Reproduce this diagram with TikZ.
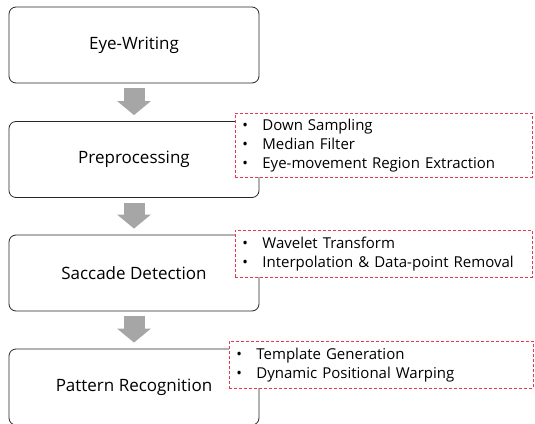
\documentclass[tikz,border=0pt]{standalone}
\usepackage{fontspec}
\setmainfont{Open Sans}
\usetikzlibrary{positioning,arrows.meta}
\definecolor{arrowgray}{HTML}{A6A6A6}
\definecolor{notered}{HTML}{E8384F}
\newcommand{\bitem}[1]{\makebox[20pt][l]{\textbullet}#1}

\begin{document}
\begin{tikzpicture}[x=1pt, y=-1pt,
    stagebox/.style={rectangle, draw=black!85, line width=0.8pt, rounded corners=7pt, minimum width=250pt, minimum height=76pt, align=center, font=\fontsize{17}{20}\selectfont},
    notebox/.style={rectangle, draw=notered, fill=white, dash pattern=on 3pt off 2pt, line width=0.8pt, align=left, inner xsep=7pt, inner ysep=3pt, anchor=north west, font=\fontsize{15}{19}\selectfont},
    blockarrow/.style={draw=arrowgray, line width=21pt, -{Triangle[length=14pt, width=33pt]}, shorten <=5pt, shorten >=6pt}
]
    \useasboundingbox (0,0) rectangle (535,423);

    % Stages
    \node[stagebox] (eye) at (134,45) {Eye-Writing};
    \node[stagebox] (pre) at (134,159.5) {Preprocessing};
    \node[stagebox] (sac) at (134,273) {Saccade Detection};
    \node[stagebox] (pat) at (134,387) {Pattern Recognition};

    \draw[blockarrow] (eye) -- (pre);
    \draw[blockarrow] (pre) -- (sac);
    \draw[blockarrow] (sac) -- (pat);

    % Details
    \node[notebox, text width=283pt, minimum height=64pt] (prenote) at (235,113) {
        \bitem{Down Sampling}\\
        \bitem{Median Filter}\\
        \bitem{Eye-movement Region Extraction}
    };
    \node[notebox, text width=283pt, minimum height=47pt] (sacnote) at (235,230) {
        \bitem{Wavelet Transform}\\
        \bitem{Interpolation \& Data-point Removal}
    };
    \node[notebox, text width=290pt, minimum height=47pt] (patnote) at (229,341) {
        \bitem{Template Generation}\\
        \bitem{Dynamic Positional Warping}
    };
\end{tikzpicture}
\end{document}
